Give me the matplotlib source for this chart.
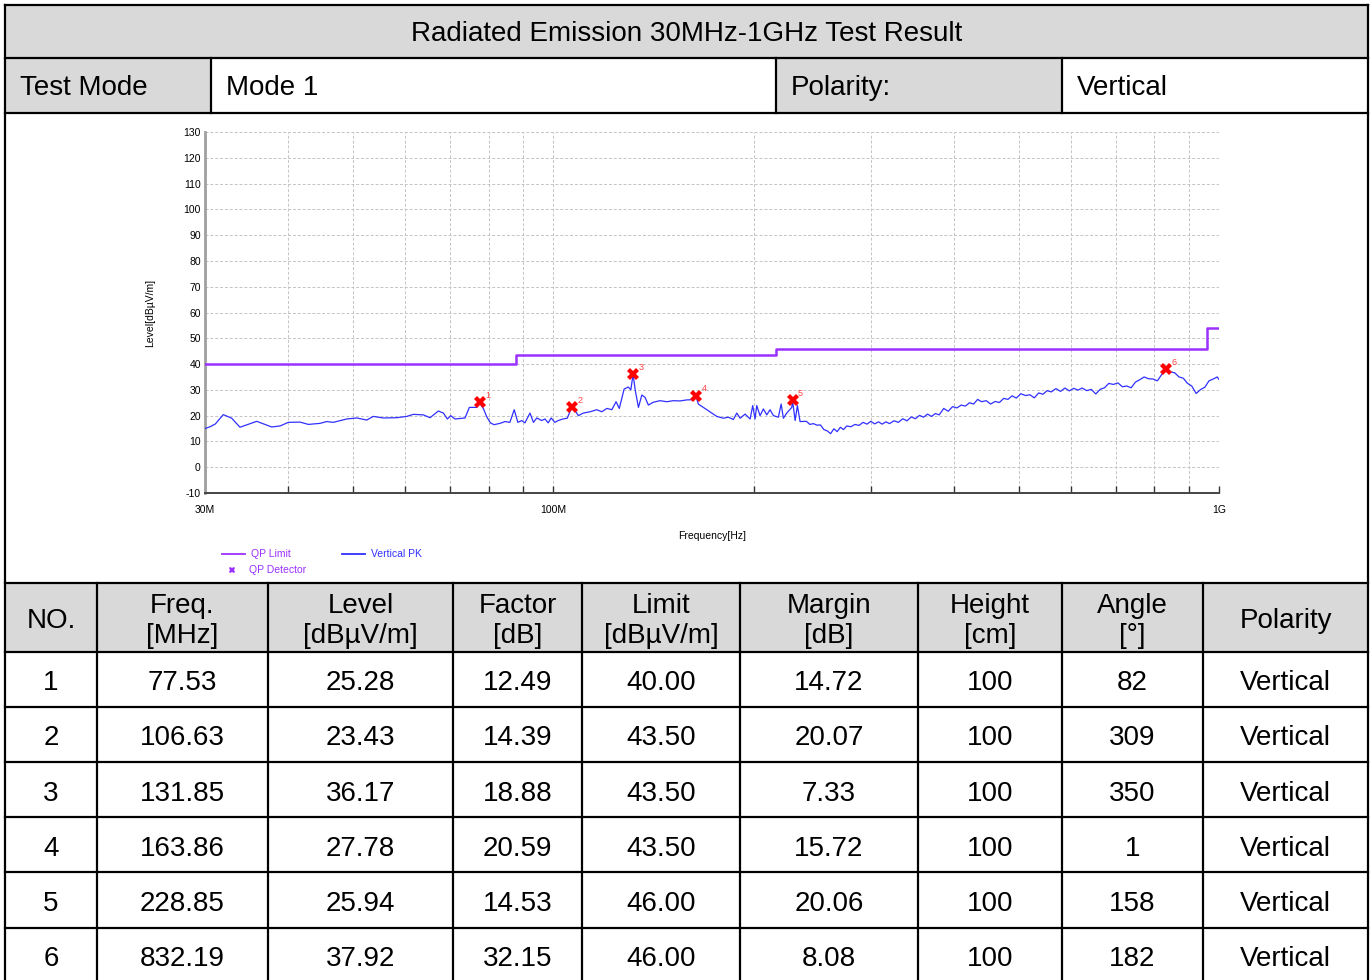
import matplotlib
matplotlib.use('Agg')
import matplotlib.pyplot as plt
from matplotlib.patches import Rectangle
from matplotlib.lines import Line2D

plt.rcParams['font.family'] = ['Liberation Sans', 'DejaVu Sans']

# ---------------- data ----------------
title = "Radiated Emission 30MHz-1GHz Test Result"
test_mode = "Mode 1"
polarity = "Vertical"

limit_freq = [30, 88, 216, 960, 1000]
limit_level = [40.0, 43.5, 46.0, 54.0, 54.0]

pk_freq = [30.0, 30.6, 31.1, 31.96, 32.9, 33.86, 35.87, 37.78, 38.89, 40.02, 41.67, 42.89,
           44.65, 45.7, 46.75, 48.97, 50.7, 52.48, 53.69, 55.58, 58.21, 60.27, 61.67, 63.83,
           65.33, 67.24, 68.41, 69.36, 70.17, 71.23, 73.73, 74.84, 76.77, 77.53, 78.6, 79.5,
           80.5, 81.5, 83.2, 84.66, 86.1, 87.4, 88.5, 89.7, 90.7, 92.3, 93.4, 94.5, 96.1,
           97.2, 98.3, 99.3, 100.6, 101.8, 103.4, 105.0, 106.63, 107.5, 109.1, 111.0, 113.6,
           116.3, 118.3, 120.4, 122.5, 124.3, 125.7, 127.8, 129.7, 130.8, 131.85, 132.8,
           134.3, 135.9, 137.4, 139.0, 141.4, 144.7, 148.1, 151.5, 155.1, 158.7, 162.4,
           163.86, 165.2, 168.1, 172.0, 176.1, 180.1, 183.3, 186.5, 188.7, 190.9, 194.2,
           197.6, 199.4, 201.0, 202.2, 204.5, 206.9, 209.3, 211.7, 214.2, 217.9, 220.0,
           221.7, 224.3, 228.2, 228.85, 230.9, 232.7, 234.9,
           240, 243, 246, 249, 252, 255, 258, 261, 264, 267, 270, 273, 276, 280, 284, 288,
           292, 296, 300, 304, 308, 312, 316, 320, 325, 330, 335, 340, 345, 350, 355, 360,
           365, 370, 375, 380, 386, 392, 398, 404, 410, 416, 422, 428, 434, 440, 447, 454,
           461, 468, 475, 482, 489, 496, 504, 512, 520, 528, 536, 544, 552, 560, 569, 578,
           587, 596, 605, 614, 623, 633, 643, 653, 663, 673, 683, 694, 705, 716, 727, 738,
           749, 760, 772, 784, 796, 808, 820, 832.19, 845, 858, 871, 884, 897, 910, 924,
           938, 952, 966, 980, 994, 1000]
pk_level = [15.0, 15.8, 16.8, 20.4, 19.0, 15.5, 17.8, 15.6, 16.0, 17.4, 17.5, 16.6,
            17.0, 17.7, 17.4, 18.7, 19.1, 18.3, 19.7, 19.1, 19.2, 19.7, 20.5, 20.3,
            19.2, 21.8, 21.0, 18.7, 20.0, 18.7, 19.1, 23.2, 23.2, 25.0, 22.6, 19.5,
            17.2, 16.5, 17.0, 17.7, 17.4, 22.3, 17.4, 18.1, 17.2, 21.0, 17.4, 19.1, 18.1,
            18.7, 17.2, 19.1, 17.4, 18.1, 18.7, 19.0, 23.2, 22.6, 20.0, 21.0, 21.5,
            22.3, 21.5, 22.8, 22.3, 25.4, 22.8, 30.3, 31.1, 30.0, 36.0, 30.0,
            23.2, 28.0, 27.1, 24.1, 25.2, 25.8, 25.4, 25.8, 25.7, 26.1, 26.2,
            27.5, 24.5, 23.2, 21.5, 19.7, 19.0, 19.4, 18.5, 21.0, 19.0, 20.6,
            18.7, 23.9, 18.7, 23.9, 20.0, 22.6, 20.3, 22.3, 20.0, 19.4, 24.5,
            19.0, 21.0, 23.2, 25.8, 18.1, 23.9, 17.7,
            17.8, 16.6, 16.9, 16.3, 16.4, 14.6, 14.1, 13.0, 14.9, 13.8, 15.5, 14.6, 16.0, 15.7, 16.6, 16.2,
            17.4, 16.7, 17.8, 16.8, 17.6, 16.7, 17.6, 16.9, 18.0, 17.4, 18.8, 18.0, 19.5, 18.8, 20.1, 19.4,
            20.6, 19.7, 20.8, 20.3, 22.8, 21.7, 23.5, 23.0, 24.1, 23.7, 25.0, 24.5, 26.3, 25.4, 25.8, 24.5,
            25.5, 25.1, 26.7, 26.3, 27.7, 26.8, 28.5, 27.8, 28.1, 26.9, 28.8, 28.3, 29.7, 29.2, 30.5, 29.4,
            30.7, 29.6, 30.6, 29.9, 30.7, 29.7, 30.2, 28.4, 30.2, 30.8, 32.5, 32.1, 32.7, 31.2, 31.5, 30.8,
            33.0, 33.9, 35.0, 34.3, 34.2, 33.5, 35.9, 37.5, 37.0, 36.6, 35.0, 34.5, 32.5, 31.5, 28.6,
            30.1, 31.0, 33.5, 34.2, 35.0, 34.0]

col_headers = ["NO.", "Freq.\n[MHz]", "Level\n[dBµV/m]", "Factor\n[dB]", "Limit\n[dBµV/m]",
               "Margin\n[dB]", "Height\n[cm]", "Angle\n[°]", "Polarity"]
peak_no = [1, 2, 3, 4, 5, 6]
peak_freq = [77.53, 106.63, 131.85, 163.86, 228.85, 832.19]
peak_level = [25.28, 23.43, 36.17, 27.78, 25.94, 37.92]
peak_factor = [12.49, 14.39, 18.88, 20.59, 14.53, 32.15]
peak_limit = [40.00, 43.50, 43.50, 43.50, 46.00, 46.00]
peak_margin = [14.72, 20.07, 7.33, 15.72, 20.06, 8.08]
peak_height = [100, 100, 100, 100, 100, 100]
peak_angle = [82, 309, 350, 1, 158, 182]
peak_pol = ["Vertical"] * 6

x_major = [30, 100, 1000]
x_major_labels = ["30M", "100M", "1G"]
x_minor = [40, 50, 60, 70, 80, 90, 200, 300, 400, 500, 600, 700, 800, 900]
y_ticks = list(range(-10, 131, 10))

# ---------------- figure ----------------
W, H = 1372, 980
fig = plt.figure(figsize=(W / 100, H / 100), dpi=100)
bg = fig.add_axes([0, 0, 1, 1])
bg.set_xlim(0, W)
bg.set_ylim(H, 0)
bg.axis('off')

gray = '#D9D9D9'
def fill(x0, y0, x1, y1):
    bg.add_patch(Rectangle((x0, y0), x1 - x0, y1 - y0, facecolor=gray, edgecolor='none', zorder=0))

def hline(x0, x1, y):
    bg.plot([x0, x1], [y, y], color='black', lw=1.6, solid_capstyle='projecting', zorder=2)

def vline(x, y0, y1):
    bg.plot([x, x], [y0, y1], color='black', lw=1.6, solid_capstyle='projecting', zorder=2)

L, R = 5, 1368
fill(L, 5, R, 58)
fill(L, 58, 211, 113)
fill(776, 58, 1062, 113)
fill(L, 583, R, 652)

for y in [5, 58, 113, 583, 652, 707, 762, 817, 872, 928]:
    hline(L, R, y)
vline(L, 5, 985)
vline(R, 5, 985)
for x in [211, 776, 1062]:
    vline(x, 58, 113)
col_x = [5, 97, 268, 453, 582, 740, 918, 1062, 1203, 1368]
for x in col_x[1:-1]:
    vline(x, 583, 985)

fs = 20
bg.text((L + R) / 2, 34, title, ha='center', va='center', fontsize=fs)
bg.text(20, 88, "Test Mode", ha='left', va='center', fontsize=fs)
bg.text(226, 88, test_mode, ha='left', va='center', fontsize=fs)
bg.text(791, 88, "Polarity:", ha='left', va='center', fontsize=fs)
bg.text(1077, 88, polarity, ha='left', va='center', fontsize=fs)

for i, hd in enumerate(col_headers):
    cx = (col_x[i] + col_x[i + 1]) / 2
    bg.text(cx, 621, hd, ha='center', va='center', fontsize=fs, linespacing=1.18)

row_y0 = 652
row_h = 55.2
for r in range(len(peak_no)):
    cy = row_y0 + row_h * (r + 0.5) + 3.5
    vals = [str(peak_no[r]), f"{peak_freq[r]:.2f}", f"{peak_level[r]:.2f}",
            f"{peak_factor[r]:.2f}", f"{peak_limit[r]:.2f}", f"{peak_margin[r]:.2f}",
            str(peak_height[r]), str(peak_angle[r]), peak_pol[r]]
    for i, v in enumerate(vals):
        cx = (col_x[i] + col_x[i + 1]) / 2
        bg.text(cx, cy, v, ha='center', va='center', fontsize=fs)

# ---------------- chart ----------------
ax = fig.add_axes([205 / W, 1 - 493 / H, 1014 / W, 361 / H])
ax.set_xscale('log')
ax.set_xlim(30, 1000)
ax.set_ylim(-10, 130)

limit_color = '#9B30FF'
pk_color = '#3030FF'

ax.plot(limit_freq, limit_level, drawstyle='steps-post', color=limit_color, lw=1.8, zorder=3)
ax.plot(pk_freq, pk_level, color=pk_color, lw=0.9, zorder=4)
ax.plot(peak_freq, peak_level, linestyle='none', marker='X', markersize=8.5,
        color='#FF0000', markeredgewidth=0, zorder=5)
for n, f, l in zip(peak_no, peak_freq, peak_level):
    ax.annotate(str(n), (f, l), xytext=(4, 3), textcoords='offset points',
                color='#FF4040', fontsize=6.5, zorder=6)

ax.set_xticks(x_major)
ax.set_xticklabels(x_major_labels)
ax.set_xticks(x_minor, minor=True)
ax.set_xticklabels([], minor=True)
ax.set_yticks(y_ticks)
ax.set_yticklabels([str(v) for v in y_ticks])

ax.grid(which='both', color='#C4C4C4', linestyle=(0, (3, 2)), linewidth=0.7)
ax.set_axisbelow(True)

ax.tick_params(axis='x', which='both', direction='in', length=5, width=1,
               color='#333333', labelsize=7.5, pad=8.5)
ax.tick_params(axis='y', which='both', length=0, labelsize=7.5, pad=3)

for s in ['top', 'right']:
    ax.spines[s].set_visible(False)
ax.spines['left'].set_color('#A0A0A0')
ax.spines['left'].set_linewidth(2)
ax.spines['bottom'].set_color('#444444')
ax.spines['bottom'].set_linewidth(1.4)

ax.set_xlabel("Frequency[Hz]", fontsize=7.5, labelpad=12)
ax.set_ylabel("Level[dBµV/m]", fontsize=7.5, labelpad=20)

# legend (manual, below the chart)
bg.add_line(Line2D([222, 245], [554, 554], color=limit_color, lw=1.3))
bg.text(251, 554, "QP Limit", color=limit_color, fontsize=7.5, va='center', ha='left')
bg.add_line(Line2D([342, 365], [554, 554], color=pk_color, lw=1.3))
bg.text(371, 554, "Vertical PK", color=pk_color, fontsize=7.5, va='center', ha='left')
bg.add_line(Line2D([232], [570], color=limit_color, marker='X', markersize=5,
                   markeredgewidth=0, linestyle='none'))
bg.text(249, 570, "QP Detector", color=limit_color, fontsize=7.5, va='center', ha='left')

fig.savefig('out.png', dpi=100)
